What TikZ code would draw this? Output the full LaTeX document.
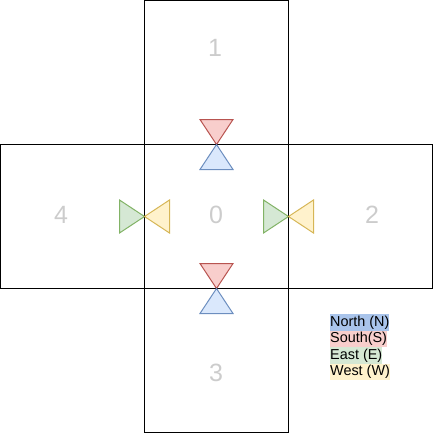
\documentclass[tikz,border=0pt]{standalone}
\usepackage{fontspec}
\setmainfont{Liberation Sans}
\definecolor{nfill}{HTML}{DAE8FC}
\definecolor{nline}{HTML}{6C8EBF}
\definecolor{sfill}{HTML}{F8CECC}
\definecolor{sline}{HTML}{B85450}
\definecolor{efill}{HTML}{D5E8D4}
\definecolor{eline}{HTML}{82B366}
\definecolor{wfill}{HTML}{FFF2CC}
\definecolor{wline}{HTML}{D6B656}
\definecolor{nkey}{HTML}{A9C4EB}
\definecolor{numgray}{HTML}{CCCCCC}
\tikzset{
	cell/.style={draw=black, line width=1pt, minimum size=144pt, inner sep=0pt},
	num/.style={text=numgray, font=\fontsize{25}{25}\selectfont},
	northtri/.style={fill=nfill, draw=nline, line width=1pt},
	southtri/.style={fill=sfill, draw=sline, line width=1pt},
	easttri/.style={fill=efill, draw=eline, line width=1pt},
	westtri/.style={fill=wfill, draw=wline, line width=1pt},
	key/.style={anchor=west, inner xsep=0pt, inner ysep=1.5pt, text height=10.5pt, text depth=3pt, font=\fontsize{14.4}{14.4}\selectfont}
}
\begin{document}
\begin{tikzpicture}[x=1pt, y=-1pt]
	\useasboundingbox (0, 0) rectangle (435, 434);
	% squares
	\node[cell] (C0) at (216.5, 216.5) {};
	\node[cell] (C1) at (216.5, 72.5) {};
	\node[cell] (C3) at (216.5, 360.5) {};
	\node[cell] (C4) at (72.5, 216.5) {};
	\node[cell] (C2) at (360.5, 216.5) {};
	% numbers
	\node[num] (N0) at (216, 215) {0};
	\node[num] (N1) at (215, 48) {1};
	\node[num] (N2) at (372, 215) {2};
	\node[num] (N3) at (216, 373) {3};
	\node[num] (N4) at (61, 215) {4};
	% top pair
	\draw[southtri] (200, 119.5) -- (233, 119.5) -- (216.5, 144.5) -- cycle;
	\draw[northtri] (200, 169.5) -- (233, 169.5) -- (216.5, 144.5) -- cycle;
	% bottom pair
	\draw[southtri] (200, 263.5) -- (233, 263.5) -- (216.5, 288.5) -- cycle;
	\draw[northtri] (200, 313.5) -- (233, 313.5) -- (216.5, 288.5) -- cycle;
	% left pair
	\draw[easttri] (119.5, 200) -- (119.5, 233) -- (144.5, 216.5) -- cycle;
	\draw[westtri] (169.5, 200) -- (169.5, 233) -- (144.5, 216.5) -- cycle;
	% right pair
	\draw[easttri] (263.5, 200) -- (263.5, 233) -- (288.5, 216.5) -- cycle;
	\draw[westtri] (313.5, 200) -- (313.5, 233) -- (288.5, 216.5) -- cycle;
	% legend
	\node[key, fill=nkey] (KN) at (330, 322.5) {North (N)};
	\node[key, fill=sfill] (KS) at (330, 339) {South(S)};
	\node[key, fill=efill] (KE) at (330, 355.5) {East (E)};
	\node[key, fill=wfill] (KW) at (330, 372) {West (W)};
\end{tikzpicture}
\end{document}
